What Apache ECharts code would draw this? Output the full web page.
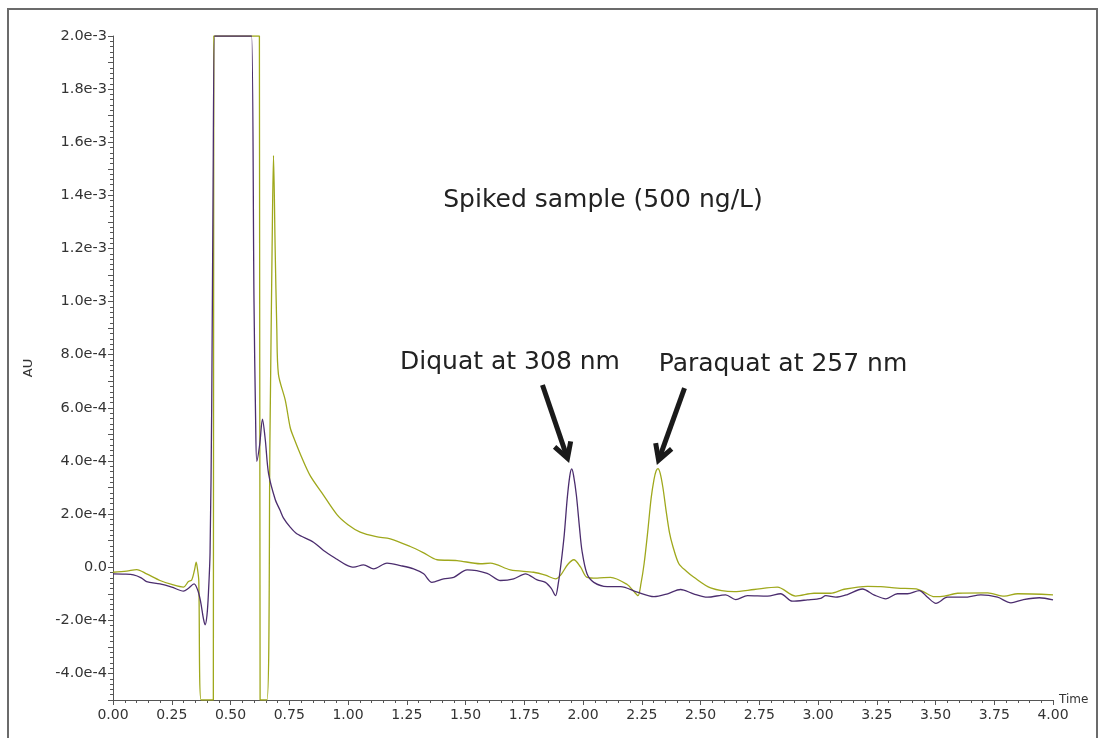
<!DOCTYPE html>
<html>
<head>
<meta charset="utf-8">
<script src="https://cdn.jsdelivr.net/npm/echarts@6/dist/echarts.min.js"></script>
<style>
html, body { margin: 0; padding: 0; background: #fff; }
#chart { width: 1100px; height: 738px; }
</style>
</head>
<body>
<div id="chart"></div>
<script>
// retention time (min) and absorbance (in units of 1e-4 AU), trace at 308 nm
var time308 = [0, 0.05, 0.087, 0.12, 0.143, 0.2, 0.25, 0.3, 0.32, 0.345, 0.36, 0.372, 0.385, 0.392, 0.4, 0.406,
    0.413, 0.42, 0.426, 0.432, 0.44, 0.58, 0.59, 0.6, 0.607, 0.612, 0.624, 0.636, 0.648, 0.662, 0.69, 0.711,
    0.725, 0.754, 0.782, 0.853, 0.896, 0.953, 0.99, 1.024, 1.066, 1.109, 1.166, 1.223, 1.279, 1.322, 1.357,
    1.407, 1.45, 1.507, 1.592, 1.649, 1.705, 1.755, 1.805, 1.84, 1.865, 1.883, 1.895, 1.906, 1.92, 1.933,
    1.944, 1.952, 1.96, 1.972, 1.985, 1.996, 2.017, 2.046, 2.103, 2.16, 2.231, 2.302, 2.36, 2.415, 2.47, 2.529,
    2.607, 2.65, 2.7, 2.785, 2.841, 2.891, 2.955, 3.012, 3.033, 3.076, 3.125, 3.189, 3.24, 3.289, 3.338,
    3.381, 3.431, 3.466, 3.502, 3.551, 3.622, 3.693, 3.764, 3.821, 3.871, 3.942, 4.0];
var au308 = [-0.25, -0.26, -0.29, -0.4, -0.54, -0.63, -0.75, -0.9, -0.8, -0.63, -0.85, -1.26, -1.95, -2.17, -1.8, -1.0,
    0.55, 6, 14.5, 20, 20, 20, 20, 10, 5.5, 3.99, 4.6, 5.57, 4.8, 3.52, 2.56, 2.14,
    1.86, 1.51, 1.26, 0.94, 0.63, 0.3, 0.1, 0.0, 0.09, -0.06, 0.15, 0.06, -0.06, -0.25, -0.57,
    -0.44, -0.38, -0.1, -0.23, -0.5, -0.44, -0.25, -0.48, -0.57, -0.8, -1.07, -0.6, 0.1, 1.2, 2.6,
    3.45, 3.7, 3.45, 2.7, 1.5, 0.6, -0.25, -0.57, -0.73, -0.73, -0.94, -1.11, -1.0, -0.84, -1.0, -1.13,
    -1.04, -1.22, -1.07, -1.09, -1.0, -1.28, -1.23, -1.17, -1.07, -1.13, -1.03, -0.82, -1.05, -1.19, -1.0,
    -1.0, -0.88, -1.13, -1.36, -1.13, -1.13, -1.04, -1.13, -1.34, -1.23, -1.15, -1.23];

// trace at 257 nm
var time257 = [0, 0.058, 0.101, 0.143, 0.2, 0.25, 0.3, 0.321, 0.335, 0.347, 0.354, 0.36, 0.365, 0.375, 0.427,
    0.429, 0.435, 0.615, 0.623, 0.626, 0.655, 0.668, 0.677, 0.683, 0.69, 0.697, 0.704, 0.733, 0.754, 0.768,
    0.8, 0.839, 0.889, 0.953, 1.0, 1.052, 1.12, 1.18, 1.265, 1.32, 1.379, 1.464, 1.563, 1.606, 1.691, 1.79,
    1.84, 1.883, 1.904, 1.935, 1.961, 1.99, 2.017, 2.06, 2.117, 2.188, 2.215, 2.234, 2.247, 2.26, 2.275,
    2.29, 2.302, 2.311, 2.319, 2.328, 2.34, 2.354, 2.368, 2.382, 2.408, 2.44, 2.472, 2.543, 2.643, 2.728,
    2.827, 2.905, 2.983, 3.054, 3.111, 3.211, 3.267, 3.338, 3.418, 3.452, 3.495, 3.537, 3.594, 3.722, 3.793,
    3.85, 4.0];
var au257 = [-0.19, -0.15, -0.09, -0.25, -0.5, -0.65, -0.75, -0.54, -0.48, -0.1, 0.19, -0.1, -0.5, -5, -5,
    20, 20, 20, 20, -5, -5, 5, 12, 15.5, 12, 9, 7.26, 6.29, 5.26, 4.9,
    4.2, 3.45, 2.8, 1.98, 1.6, 1.32, 1.15, 1.07, 0.78, 0.55, 0.28, 0.25, 0.13, 0.15, -0.1, -0.19,
    -0.3, -0.44, -0.31, 0.1, 0.28, 0.0, -0.38, -0.41, -0.38, -0.65, -0.9, -1.07, -0.6, 0.13, 1.3,
    2.6, 3.3, 3.62, 3.71, 3.55, 3.0, 2.1, 1.3, 0.8, 0.13, -0.15, -0.38, -0.78, -0.92, -0.84,
    -0.75, -1.09, -0.98, -0.98, -0.83, -0.72, -0.73, -0.79, -0.82, -0.94, -1.11, -1.09, -0.98, -0.97, -1.09,
    -1.0, -1.04];

// annotation arrows: [from, to] in [time, AU]
var arrowDiquat = [[1.8275, 6.86e-4], [1.934, 4.10e-4]];
var arrowParaquat = [[2.432, 6.74e-4], [2.3216, 4.03e-4]];

function toPairs(t, v) {
    return t.map(function (x, i) { return [x, v[i] * 1e-4]; });
}

var fontName = 'DejaVu Sans';
var chart = echarts.init(document.getElementById('chart'));

var option = {
    animation: false,
    backgroundColor: '#fff',
    grid: { left: 113, right: 47, top: 36, bottom: 38 },
    xAxis: {
        type: 'value',
        min: 0,
        max: 4,
        interval: 0.25,
        name: 'Time',
        nameGap: 6,
        nameTextStyle: { fontFamily: fontName, fontSize: 12, color: '#333' },
        axisLine: { onZero: false, lineStyle: { color: '#555', width: 1 } },
        axisTick: { length: 5, lineStyle: { color: '#555' } },
        minorTick: { show: true, splitNumber: 5, length: 3, lineStyle: { color: '#555' } },
        splitLine: { show: false },
        axisLabel: {
            fontFamily: fontName, fontSize: 14, color: '#333', margin: 8,
            formatter: function (v) { return v.toFixed(2); }
        }
    },
    yAxis: {
        type: 'value',
        min: -5e-4,
        max: 2e-3,
        interval: 1e-4,
        name: 'AU',
        nameLocation: 'middle',
        nameGap: 78,
        nameTextStyle: { fontFamily: fontName, fontSize: 13, color: '#333' },
        axisLine: { show: true, lineStyle: { color: '#555', width: 1 } },
        axisTick: { length: 5, lineStyle: { color: '#555' } },
        minorTick: { show: true, splitNumber: 5, length: 3, lineStyle: { color: '#555' } },
        splitLine: { show: false },
        axisLabel: {
            fontFamily: fontName, fontSize: 14.5, color: '#333', margin: 6,
            formatter: function (v) {
                var k = Math.round(v / 1e-4);
                if (k % 2 !== 0) return '';
                if (k === 0) return '0.0';
                return (k * 1e-4).toExponential(1);
            }
        }
    },
    series: [
        {
            name: '257 nm',
            type: 'line',
            data: toPairs(time257, au257),
            showSymbol: false,
            smooth: 0.3,
            lineStyle: { color: '#9fa81c', width: 1.3 },
            z: 2
        },
        {
            name: '308 nm',
            type: 'line',
            data: toPairs(time308, au308),
            showSymbol: false,
            smooth: 0.3,
            lineStyle: { color: '#4b2d6e', width: 1.3 },
            z: 3
        }
    ]
};
chart.setOption(option);

// arrows and text drawn on top, placed through the grid's own scale
function arrowGraphics(a) {
    var p0 = chart.convertToPixel({ gridIndex: 0 }, a[0]);
    var p1 = chart.convertToPixel({ gridIndex: 0 }, a[1]);
    var dx = p1[0] - p0[0], dy = p1[1] - p0[1];
    var len = Math.sqrt(dx * dx + dy * dy);
    var ux = dx / len, uy = dy / len;
    var px = -uy, py = ux;
    var back = 15, side = 8.5;
    var style = { stroke: '#1a1a1a', lineWidth: 5, fill: null, lineCap: 'butt', lineJoin: 'miter' };
    return [
        { type: 'line', shape: { x1: p0[0], y1: p0[1], x2: p1[0] - ux * 2, y2: p1[1] - uy * 2 }, style: style, z: 100 },
        {
            type: 'polyline',
            shape: { points: [
                [p1[0] - ux * back + px * side, p1[1] - uy * back + py * side],
                [p1[0], p1[1]],
                [p1[0] - ux * back - px * side, p1[1] - uy * back - py * side]
            ] },
            style: style, z: 100
        }
    ];
}

var textStyle = { fontFamily: fontName, fontSize: 25, fill: '#222', align: 'center', verticalAlign: 'middle' };
var graphics = [
    { type: 'rect', shape: { x: 8, y: 9, width: 1089, height: 800 }, style: { stroke: '#6b6b6b', lineWidth: 2, fill: null }, z: 100 },
    { type: 'text', x: 603, y: 200, style: Object.assign({ text: 'Spiked sample (500 ng/L)' }, textStyle), z: 100 },
    { type: 'text', x: 510, y: 362, style: Object.assign({ text: 'Diquat at 308 nm' }, textStyle), z: 100 },
    { type: 'text', x: 783, y: 364, style: Object.assign({ text: 'Paraquat at 257 nm' }, textStyle), z: 100 }
].concat(arrowGraphics(arrowDiquat), arrowGraphics(arrowParaquat));

chart.setOption({ graphic: graphics });
</script>
</body>
</html>
